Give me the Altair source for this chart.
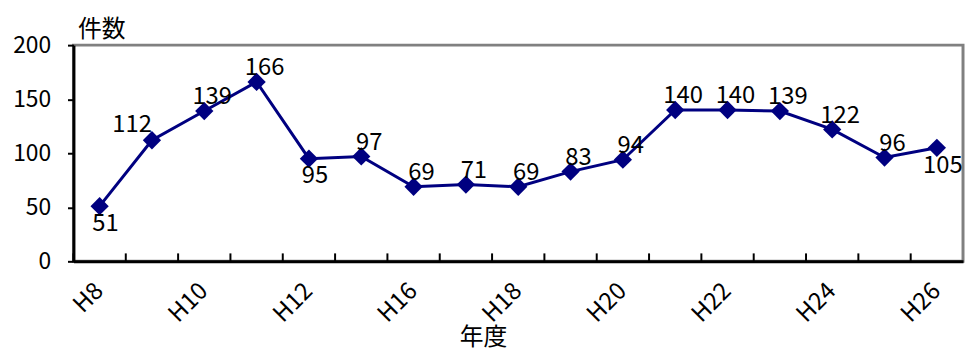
import json
import altair as alt
import pandas as pd

years = ["H8", "H9", "H10", "H11", "H12", "H15", "H16", "H17", "H18",
         "H19", "H20", "H21", "H22", "H23", "H24", "H25", "H26"]
counts = [51, 112, 139, 166, 95, 97, 69, 71, 69, 83, 94, 140, 140, 139, 122, 96, 105]
shown_labels = ["H8", "H10", "H12", "H16", "H18", "H20", "H22", "H24", "H26"]
y_ticks = [0, 50, 100, 150, 200]
labels_below = ["H8", "H12", "H26"]
labels_left = ["H9"]

df = pd.DataFrame({"year": years, "count": counts})

FONT = "Noto Sans CJK JP"
NAVY = "#000080"
W, H = 897, 218

xscale = alt.Scale(type="band", paddingInner=0, paddingOuter=0, domain=years)
yscale = alt.Scale(domain=[0, 200], nice=False)

base = alt.Chart(df)

x_main = alt.X(
    "year:N", sort=years, scale=xscale,
    axis=alt.Axis(
        orient="bottom", values=shown_labels, title="年度",
        labelAngle=-45, labelAlign="right", labelBaseline="middle",
        ticks=False, tickSize=0, labelPadding=26,
        labelFont=FONT, labelFontSize=24, labelColor="black",
        domainColor="black", domainWidth=3,
        titleFont=FONT, titleFontSize=24, titleFontWeight="normal",
        titleColor="black", titleX=413, titleY=77,
        titleAlign="center", titleBaseline="middle",
    ),
)
y_main = alt.Y(
    "count:Q", scale=yscale,
    axis=alt.Axis(
        values=y_ticks, grid=False, title="件数",
        titleAngle=0, titleX=4, titleY=-4, titleAlign="left",
        titleBaseline="bottom", titleFont=FONT, titleFontSize=24,
        titleFontWeight="normal", titleColor="black",
        labelFont=FONT, labelFontSize=23, labelColor="black",
        labelPadding=17, tickSize=6, tickWidth=2, tickColor="black",
        domainColor="black", domainWidth=3,
    ),
)

line = base.mark_line(color=NAVY, strokeWidth=3).encode(x=x_main, y=y_main)

x_plain = alt.X("year:N", sort=years, scale=xscale)
y_plain = alt.Y("count:Q", scale=yscale)

# inward tick marks at the category boundaries
ticks = base.mark_rule(color="black", strokeWidth=2).encode(
    x=alt.X("year:N", sort=years, scale=xscale, bandPosition=0),
    y=alt.value(H - 8),
    y2=alt.value(H),
)

points = base.mark_point(
    shape="diamond", filled=True, size=340, color=NAVY, opacity=1
).encode(x=x_plain, y=y_plain)

special = json.dumps(labels_below + labels_left)
txt_kw = dict(fontSize=24, font=FONT, color="black")

text_above = base.transform_filter(
    f"indexof({special}, datum.year) < 0"
).mark_text(dx=8, dy=-14, **txt_kw).encode(x=x_plain, y=y_plain, text="count:Q")

text_below = base.transform_filter(
    f"indexof({json.dumps(labels_below)}, datum.year) >= 0"
).mark_text(dx=6, dy=18, **txt_kw).encode(x=x_plain, y=y_plain, text="count:Q")

text_left = base.transform_filter(
    f"indexof({json.dumps(labels_left)}, datum.year) >= 0"
).mark_text(dx=-20, dy=-15, **txt_kw).encode(x=x_plain, y=y_plain, text="count:Q")

chart = (
    alt.layer(line, ticks, points, text_above, text_below, text_left)
    .resolve_scale(x="shared", y="shared")
    .properties(
        width=W, height=H,
        autosize=alt.AutoSizeParams(type="none"),
        padding={"left": 66, "top": 36, "right": 2, "bottom": 92},
    )
    .configure_view(stroke="#808080", strokeWidth=3)
)

chart.save("out.html", embed_options={"renderer": "svg", "actions": False})
